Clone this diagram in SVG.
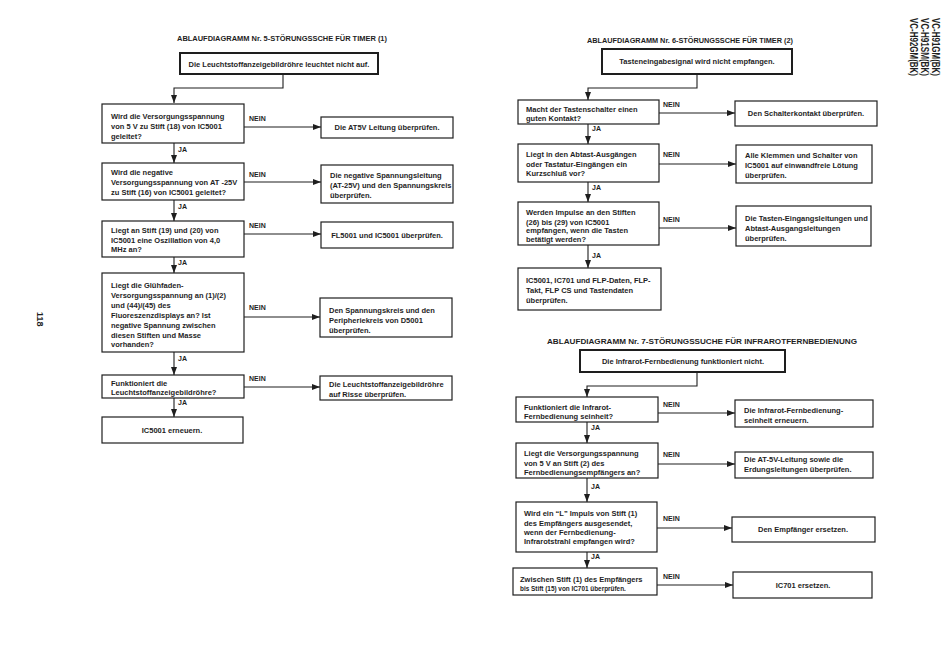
<svg xmlns="http://www.w3.org/2000/svg" width="950" height="670" viewBox="0 0 950 670">
<defs>
<marker id="ah" viewBox="0 0 8 6" refX="8" refY="3" markerWidth="8" markerHeight="6" markerUnits="userSpaceOnUse" orient="auto">
<path d="M0,0 L8,3 L0,6 z" fill="#1e1e1e"/>
</marker>
</defs>
<style>
text{font-family:"Liberation Sans",Arial,sans-serif;font-weight:bold;fill:#1e1e1e;font-size:7.5px}
.t{font-size:7px}
.c{text-anchor:middle}
.s{font-size:6.4px}
.lab{font-size:7px}
rect{fill:#fff;stroke:#1e1e1e;stroke-width:1.2}
rect.start{stroke-width:2}
.con path,.con line{fill:none;stroke:#1e1e1e;stroke-width:1.1}
.rot{font-size:10px}
</style>
<rect x="0" y="0" width="950" height="670" style="fill:#fff;stroke:none"/>

<!-- page markers -->
<text class="rot" transform="translate(37,312) rotate(90)" style="font-size:9px">118</text>
<g id="models">
<text class="rot" transform="translate(932,18) rotate(90)" textLength="58" lengthAdjust="spacingAndGlyphs">VC-H91GM(BK)</text>
<text class="rot" transform="translate(921,18) rotate(90)" textLength="58" lengthAdjust="spacingAndGlyphs">VC-H91SM(BK)</text>
<text class="rot" transform="translate(910,18) rotate(90)" textLength="58" lengthAdjust="spacingAndGlyphs">VC-H92GM(BK)</text>
</g>

<!-- titles -->
<text class="t c" x="282" y="41" textLength="210" lengthAdjust="spacingAndGlyphs">ABLAUFDIAGRAMM Nr. 5-STÖRUNGSSCHE FÜR TIMER (1)</text>
<text class="t c" x="690" y="43" textLength="206" lengthAdjust="spacingAndGlyphs">ABLAUFDIAGRAMM Nr. 6-STÖRUNGSSCHE FÜR TIMER (2)</text>
<text class="t c" x="702" y="344" textLength="310" lengthAdjust="spacingAndGlyphs">ABLAUFDIAGRAMM Nr. 7-STÖRUNGSSUCHE FÜR INFRAROTFERNBEDIENUNG</text>

<!-- connectors -->
<g id="connectors" class="con">
<path d="M283,74 V88 H174 V103" marker-end="url(#ah)"/>
<line x1="244" y1="127" x2="321" y2="127" marker-end="url(#ah)"/>
<line x1="174" y1="143" x2="174" y2="163" marker-end="url(#ah)"/>
<line x1="244" y1="182" x2="321" y2="182" marker-end="url(#ah)"/>
<line x1="174" y1="200" x2="174" y2="221" marker-end="url(#ah)"/>
<line x1="244" y1="234" x2="321" y2="234" marker-end="url(#ah)"/>
<line x1="174" y1="257" x2="174" y2="273" marker-end="url(#ah)"/>
<line x1="244" y1="317" x2="320" y2="317" marker-end="url(#ah)"/>
<line x1="174" y1="352" x2="174" y2="375" marker-end="url(#ah)"/>
<line x1="244" y1="387" x2="320" y2="387" marker-end="url(#ah)"/>
<line x1="174" y1="398" x2="174" y2="417" marker-end="url(#ah)"/>

<path d="M697,74 V88 H588 V100" marker-end="url(#ah)"/>
<line x1="659" y1="113" x2="735" y2="113" marker-end="url(#ah)"/>
<line x1="588" y1="124" x2="588" y2="144" marker-end="url(#ah)"/>
<line x1="659" y1="164" x2="736" y2="164" marker-end="url(#ah)"/>
<line x1="588" y1="182" x2="588" y2="202" marker-end="url(#ah)"/>
<line x1="659" y1="228" x2="736" y2="228" marker-end="url(#ah)"/>
<line x1="588" y1="245" x2="588" y2="268" marker-end="url(#ah)"/>

<path d="M697,372 V386 H587 V397" marker-end="url(#ah)"/>
<line x1="658" y1="413" x2="735" y2="413" marker-end="url(#ah)"/>
<line x1="587" y1="422" x2="587" y2="443" marker-end="url(#ah)"/>
<line x1="658" y1="464" x2="735" y2="464" marker-end="url(#ah)"/>
<line x1="587" y1="478" x2="587" y2="502" marker-end="url(#ah)"/>
<line x1="657" y1="528" x2="732" y2="528" marker-end="url(#ah)"/>
<line x1="587" y1="552" x2="587" y2="568" marker-end="url(#ah)"/>
<line x1="657" y1="585" x2="733" y2="585" marker-end="url(#ah)"/>

<!-- labels -->
<text class="lab" x="249" y="121">NEIN</text>
<text class="lab" x="178" y="152">JA</text>
<text class="lab" x="249" y="177">NEIN</text>
<text class="lab" x="178" y="209">JA</text>
<text class="lab" x="249" y="228">NEIN</text>
<text class="lab" x="178" y="265">JA</text>
<text class="lab" x="249" y="310">NEIN</text>
<text class="lab" x="178" y="361">JA</text>
<text class="lab" x="249" y="381">NEIN</text>
<text class="lab" x="178" y="405">JA</text>

<text class="lab" x="663" y="107">NEIN</text>
<text class="lab" x="592" y="131">JA</text>
<text class="lab" x="663" y="157">NEIN</text>
<text class="lab" x="592" y="190">JA</text>
<text class="lab" x="663" y="222">NEIN</text>
<text class="lab" x="592" y="258">JA</text>

<text class="lab" x="663" y="407">NEIN</text>
<text class="lab" x="591" y="430">JA</text>
<text class="lab" x="663" y="457">NEIN</text>
<text class="lab" x="591" y="489">JA</text>
<text class="lab" x="663" y="521">NEIN</text>
<text class="lab" x="591" y="559">JA</text>
<text class="lab" x="663" y="579">NEIN</text>
</g>

<!-- Diagram 5 -->
<g id="d5-start">
<rect class="start" x="180" y="53" width="198" height="21"/>
<text class="c" x="279" y="67">Die Leuchtstoffanzeigebildröhre leuchtet nicht auf.</text>
</g>
<g id="d5-q1">
<rect x="102" y="104" width="142" height="39"/>
<text x="111" y="118.5">Wird die Versorgungsspannung</text>
<text x="111" y="128.5">von 5 V zu Stift (18) von IC5001</text>
<text x="111" y="138.5">geleitet?</text>
</g>
<g id="d5-a1">
<rect x="321" y="117" width="132" height="21"/>
<text class="c" x="387" y="130">Die AT5V Leitung überprüfen.</text>
</g>
<g id="d5-q2">
<rect x="102" y="163" width="142" height="37"/>
<text x="111" y="174.5">Wird die negative</text>
<text x="111" y="184.5">Versorgungsspannung von AT -25V</text>
<text x="111" y="194.5">zu Stift (16) von IC5001 geleitet?</text>
</g>
<g id="d5-a2">
<rect x="321" y="165" width="132" height="38"/>
<text x="330" y="177.5">Die negative Spannungsleitung</text>
<text x="330" y="187.5">(AT-25V) und den Spannungskreis</text>
<text x="330" y="197.5">überprüfen.</text>
</g>
<g id="d5-q3">
<rect x="102" y="221" width="142" height="36"/>
<text x="111" y="232.5">Liegt an Stift (19) und (20) von</text>
<text x="111" y="242.5">IC5001 eine Oszillation von 4,0</text>
<text x="111" y="252">MHz an?</text>
</g>
<g id="d5-a3">
<rect x="321" y="222" width="132" height="26"/>
<text class="c" x="387" y="237.5">FL5001 und IC5001 überprüfen.</text>
</g>
<g id="d5-q4">
<rect x="102" y="273" width="142" height="79"/>
<text x="111" y="288">Liegt die Glühfaden-</text>
<text x="111" y="298">Versorgungsspannung an (1)/(2)</text>
<text x="111" y="308">und (44)/(45) des</text>
<text x="111" y="317.5">Fluoreszenzdisplays an? Ist</text>
<text x="111" y="327.5">negative Spannung zwischen</text>
<text x="111" y="337.5">diesen Stiften und Masse</text>
<text x="111" y="347">vorhanden?</text>
</g>
<g id="d5-a4">
<rect x="320" y="298" width="132" height="39"/>
<text x="329" y="312.5">Den Spannungskreis und den</text>
<text x="329" y="322.5">Peripheriekreis von D5001</text>
<text x="329" y="332.5">überprüfen.</text>
</g>
<g id="d5-q5">
<rect x="102" y="375" width="142" height="23"/>
<text x="111" y="385.5">Funktioniert die</text>
<text x="111" y="394.5">Leuchtstoffanzeigebildröhre?</text>
</g>
<g id="d5-a5">
<rect x="320" y="376" width="132" height="24"/>
<text x="329" y="386.5">Die Leuchtstoffanzeigebildröhre</text>
<text x="329" y="396.5">auf Risse überprüfen.</text>
</g>
<g id="d5-end">
<rect x="102" y="417" width="141" height="26"/>
<text class="c" x="172" y="433">IC5001 erneuern.</text>
</g>

<!-- Diagram 6 -->
<g id="d6-start">
<rect class="start" x="602" y="49" width="190" height="25"/>
<text class="c" x="697" y="64">Tasteneingabesignal wird nicht empfangen.</text>
</g>
<g id="d6-q1">
<rect x="518" y="100" width="141" height="24"/>
<text x="526" y="111.5">Macht der Tastenschalter einen</text>
<text x="526" y="120.5">guten Kontakt?</text>
</g>
<g id="d6-a1">
<rect x="735" y="101" width="142" height="25"/>
<text class="c" x="806" y="116">Den Schalterkontakt überprüfen.</text>
</g>
<g id="d6-q2">
<rect x="518" y="144" width="141" height="38"/>
<text x="526" y="157">Liegt in den Abtast-Ausgängen</text>
<text x="526" y="167">oder Tastatur-Eingängen ein</text>
<text x="526" y="176">Kurzschluß vor?</text>
</g>
<g id="d6-a2">
<rect x="736" y="145" width="136" height="38"/>
<text x="745" y="158">Alle Klemmen und Schalter von</text>
<text x="745" y="168">IC5001 auf einwandfreie Lötung</text>
<text x="745" y="178">überprüfen.</text>
</g>
<g id="d6-q3">
<rect x="518" y="202" width="141" height="43"/>
<text x="526" y="215">Werden Impulse an den Stiften</text>
<text x="526" y="224.5">(26) bis (29) von IC5001</text>
<text x="526" y="233">empfangen, wenn die Tasten</text>
<text x="526" y="241.5">betätigt werden?</text>
</g>
<g id="d6-a3">
<rect x="736" y="206" width="135" height="40"/>
<text x="745" y="220.5">Die Tasten-Eingangsleitungen und</text>
<text x="745" y="230.5">Abtast-Ausgangsleitungen</text>
<text x="745" y="240.5">überprüfen.</text>
</g>
<g id="d6-end">
<rect x="518" y="268" width="143" height="42"/>
<text x="526" y="282.5">IC5001, IC701 und FLP-Daten, FLP-</text>
<text x="526" y="292.5">Takt, FLP CS und Tastendaten</text>
<text x="526" y="302.5">überprüfen.</text>
</g>

<!-- Diagram 7 -->
<g id="d7-start">
<rect class="start" x="580" y="350" width="205" height="22"/>
<text class="c" x="683" y="364">Die Infrarot-Fernbedienung funktioniert nicht.</text>
</g>
<g id="d7-q1">
<rect x="516" y="397" width="142" height="25"/>
<text x="524" y="410">Funktioniert die Infrarot-</text>
<text x="524" y="419">Fernbedienung seinheit?</text>
</g>
<g id="d7-a1">
<rect x="735" y="400" width="138" height="27"/>
<text x="744" y="413">Die Infrarot-Fernbedienung-</text>
<text x="744" y="423">seinheit erneuern.</text>
</g>
<g id="d7-q2">
<rect x="516" y="443" width="142" height="35"/>
<text x="524" y="455.5">Liegt die Versorgungsspannung</text>
<text x="524" y="465.5">von 5 V an Stift (2) des</text>
<text x="524" y="474.5">Fernbedienungsempfängers an?</text>
</g>
<g id="d7-a2">
<rect x="735" y="452" width="138" height="26"/>
<text x="744" y="461.5">Die AT-5V-Leitung sowie die</text>
<text x="744" y="471.5">Erdungsleitungen überprüfen.</text>
</g>
<g id="d7-q3">
<rect x="516" y="502" width="141" height="50"/>
<text x="524" y="515.5">Wird ein “L” Impuls von Stift (1)</text>
<text x="524" y="525.5">des Empfängers ausgesendet,</text>
<text x="524" y="535">wenn der Fernbedienung-</text>
<text x="524" y="544">Infrarotstrahl empfangen wird?</text>
</g>
<g id="d7-a3">
<rect x="732" y="517" width="143" height="25"/>
<text class="c" x="803" y="532">Den Empfänger ersetzen.</text>
</g>
<g id="d7-q4">
<rect x="513" y="568" width="144" height="27"/>
<text x="520" y="581.5">Zwischen Stift (1) des Empfängers</text>
<text class="s" x="520" y="590.5">bis Stift (15) von IC701 überprüfen.</text>
</g>
<g id="d7-a4">
<rect x="733" y="572" width="139" height="26"/>
<text class="c" x="803" y="588">IC701 ersetzen.</text>
</g>
</svg>
